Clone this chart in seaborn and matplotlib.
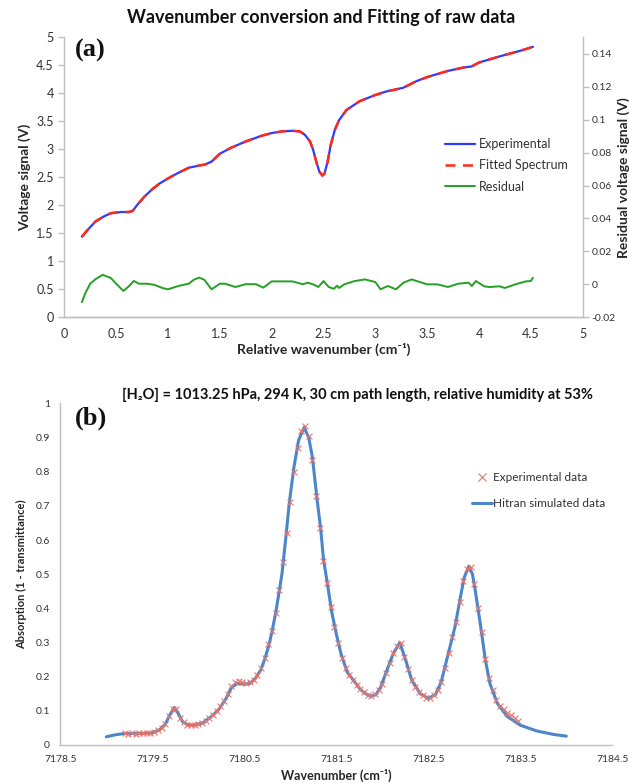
import numpy as np
import pandas as pd
import matplotlib
matplotlib.use("Agg")
import matplotlib.pyplot as plt
import seaborn as sns
from matplotlib.lines import Line2D
from matplotlib.ticker import FuncFormatter

# ---------------- data: panel (a) ----------------
rel_wavenumber = [0.17, 0.22, 0.30, 0.38, 0.45, 0.50, 0.55, 0.62, 0.66, 0.70, 0.77, 0.85,
                  0.92, 1.00, 1.10, 1.20, 1.30, 1.36, 1.42, 1.50, 1.60, 1.75, 1.90, 2.00,
                  2.10, 2.20, 2.27, 2.32, 2.37, 2.40, 2.43, 2.46, 2.49, 2.51, 2.54, 2.57,
                  2.61, 2.65, 2.72, 2.85, 3.00, 3.10, 3.20, 3.27, 3.40, 3.50, 3.70, 3.85,
                  3.93, 4.00, 4.20, 4.40, 4.52]
experimental_signal = [1.44, 1.55, 1.71, 1.80, 1.86, 1.87, 1.88, 1.88, 1.90, 2.00, 2.15, 2.29,
                       2.39, 2.48, 2.58, 2.67, 2.71, 2.73, 2.78, 2.92, 3.02, 3.14, 3.24, 3.29,
                       3.32, 3.33, 3.32, 3.26, 3.14, 2.99, 2.78, 2.60, 2.53, 2.57, 2.78, 3.08,
                       3.35, 3.52, 3.70, 3.86, 3.97, 4.03, 4.07, 4.10, 4.22, 4.29, 4.40, 4.46,
                       4.48, 4.55, 4.66, 4.76, 4.83]
fitted_signal = [1.44, 1.55, 1.71, 1.80, 1.86, 1.87, 1.88, 1.88, 1.90, 2.00, 2.15, 2.29,
                 2.39, 2.48, 2.58, 2.67, 2.71, 2.73, 2.78, 2.92, 3.02, 3.14, 3.24, 3.29,
                 3.32, 3.33, 3.32, 3.26, 3.14, 2.99, 2.78, 2.60, 2.53, 2.57, 2.78, 3.08,
                 3.35, 3.52, 3.70, 3.86, 3.97, 4.03, 4.07, 4.10, 4.22, 4.29, 4.40, 4.46,
                 4.48, 4.55, 4.66, 4.76, 4.83]
residual_x = [0.17, 0.20, 0.25, 0.30, 0.37, 0.45, 0.50, 0.57, 0.62, 0.67, 0.72, 0.80, 0.87,
              0.95, 1.00, 1.10, 1.20, 1.25, 1.30, 1.35, 1.42, 1.50, 1.55, 1.65, 1.75, 1.85,
              1.92, 2.00, 2.20, 2.30, 2.35, 2.40, 2.45, 2.50, 2.55, 2.60, 2.63, 2.65, 2.70,
              2.80, 2.90, 3.00, 3.05, 3.12, 3.20, 3.27, 3.35, 3.50, 3.60, 3.70, 3.80, 3.90,
              3.93, 3.97, 4.05, 4.10, 4.20, 4.25, 4.35, 4.45, 4.50, 4.52]
residual_signal = [-0.0108, -0.0057, 0.0004, 0.0031, 0.0058, 0.0038, 0.0004, -0.0040, -0.0013,
                   0.0021, 0.0004, 0.0004, -0.0003, -0.0023, -0.0030, -0.0010, 0.0004, 0.0028,
                   0.0041, 0.0028, -0.0030, 0.0004, 0.0004, -0.0016, 0.0001, 0.0001, -0.0020,
                   0.0018, 0.0018, 0.0001, 0.0010, 0.0000, -0.0016, 0.0020, -0.0016, -0.0027,
                   -0.0008, -0.0022, 0.0000, 0.0020, 0.0030, 0.0014, -0.0030, -0.0010, -0.0030,
                   0.0010, 0.0030, 0.0000, 0.0000, -0.0016, 0.0004, 0.0010, -0.0010, 0.0020,
                   -0.0012, -0.0016, -0.0012, -0.0022, 0.0000, 0.0018, 0.0020, 0.0040]

# ---------------- data: panel (b) ----------------
hitran_wn = [7179.00, 7179.10, 7179.18, 7179.30, 7179.40, 7179.50, 7179.58, 7179.64, 7179.69,
             7179.74, 7179.78, 7179.83, 7179.88, 7179.95, 7180.05, 7180.15, 7180.22, 7180.30,
             7180.36, 7180.42, 7180.50, 7180.56, 7180.62, 7180.68, 7180.73, 7180.77, 7180.80,
             7180.84, 7180.87, 7180.91, 7180.95, 7180.99, 7181.04, 7181.09, 7181.15, 7181.20,
             7181.24, 7181.29, 7181.33, 7181.36, 7181.40, 7181.45, 7181.50, 7181.55, 7181.62,
             7181.70, 7181.76, 7181.82, 7181.87, 7181.93, 7181.98, 7182.05, 7182.12, 7182.19,
             7182.25, 7182.32, 7182.41, 7182.50, 7182.58, 7182.64, 7182.70, 7182.79, 7182.85,
             7182.89, 7182.94, 7182.98, 7183.01, 7183.07, 7183.12, 7183.17, 7183.25, 7183.36,
             7183.50, 7183.68, 7183.86, 7184.00]
hitran_abs = [0.024, 0.030, 0.033, 0.034, 0.034, 0.036, 0.045, 0.060, 0.088,
              0.110, 0.093, 0.068, 0.060, 0.058, 0.065, 0.085, 0.103, 0.135,
              0.168, 0.180, 0.178, 0.180, 0.195, 0.220, 0.258, 0.295, 0.331,
              0.385, 0.434, 0.502, 0.604, 0.711, 0.814, 0.892, 0.930, 0.900,
              0.843, 0.721, 0.634, 0.545, 0.478, 0.390, 0.325, 0.268, 0.212,
              0.185, 0.163, 0.150, 0.143, 0.147, 0.168, 0.219, 0.268, 0.300,
              0.252, 0.190, 0.151, 0.136, 0.148, 0.185, 0.249, 0.346, 0.434,
              0.490, 0.523, 0.500, 0.453, 0.346, 0.249, 0.180, 0.122, 0.083,
              0.058, 0.041, 0.031, 0.026]

exp_wn = [7179.20, 7179.24, 7179.28, 7179.32, 7179.36, 7179.40, 7179.44, 7179.48, 7179.52,
          7179.56, 7179.60, 7179.64, 7179.68, 7179.72, 7179.76, 7179.80, 7179.84, 7179.88,
          7179.92, 7179.96, 7180.00, 7180.04, 7180.08, 7180.12, 7180.16, 7180.20, 7180.24,
          7180.28, 7180.32, 7180.36, 7180.40, 7180.44, 7180.48, 7180.52, 7180.56, 7180.60,
          7180.64, 7180.68, 7180.72, 7180.76, 7180.80, 7180.84, 7180.88, 7180.92, 7180.96,
          7181.00, 7181.04, 7181.08, 7181.12, 7181.16, 7181.20, 7181.24, 7181.28, 7181.32,
          7181.36, 7181.40, 7181.44, 7181.48, 7181.52, 7181.56, 7181.60, 7181.64, 7181.68,
          7181.72, 7181.76, 7181.80, 7181.84, 7181.88, 7181.92, 7181.96, 7182.00, 7182.04,
          7182.08, 7182.12, 7182.16, 7182.20, 7182.24, 7182.28, 7182.32, 7182.36, 7182.40,
          7182.44, 7182.48, 7182.52, 7182.56, 7182.60, 7182.64, 7182.68, 7182.72, 7182.76,
          7182.80, 7182.84, 7182.88, 7182.92, 7182.96, 7183.00, 7183.04, 7183.08, 7183.12,
          7183.16, 7183.20, 7183.24, 7183.28, 7183.32, 7183.36, 7183.40, 7183.44, 7183.48]
exp_abs = [0.034, 0.033, 0.034, 0.033, 0.034, 0.034, 0.035, 0.036, 0.038,
           0.043, 0.050, 0.062, 0.085, 0.104, 0.106, 0.080, 0.066, 0.060,
           0.058, 0.059, 0.062, 0.064, 0.070, 0.078, 0.088, 0.100, 0.113,
           0.130, 0.150, 0.172, 0.185, 0.188, 0.184, 0.182, 0.184, 0.190,
           0.205, 0.225, 0.255, 0.295, 0.335, 0.385, 0.455, 0.535, 0.620,
           0.710, 0.800, 0.870, 0.920, 0.935, 0.905, 0.835, 0.730, 0.635,
           0.540, 0.475, 0.405, 0.345, 0.300, 0.255, 0.225, 0.205, 0.190,
           0.176, 0.163, 0.154, 0.147, 0.143, 0.148, 0.160, 0.180, 0.212,
           0.240, 0.268, 0.290, 0.300, 0.258, 0.222, 0.190, 0.170, 0.154,
           0.145, 0.138, 0.137, 0.145, 0.162, 0.185, 0.225, 0.270, 0.315,
           0.360, 0.420, 0.480, 0.515, 0.520, 0.470, 0.400, 0.330, 0.252,
           0.195, 0.160, 0.132, 0.115, 0.104, 0.095, 0.087, 0.078, 0.070]

# ---------------- style ----------------
sns.set_theme(style="white")
plt.rcParams['font.family'] = ['Lato', 'DejaVu Sans']
GREY = '#BFBFBF'
TXT = '#333333'

fig = plt.figure(figsize=(6.29, 7.83), dpi=100)
fmt = FuncFormatter(lambda v, p: f'{v:g}')

def style_axis(ax, sides):
    for s in ['top', 'right', 'left', 'bottom']:
        ax.spines[s].set_visible(s in sides)
        ax.spines[s].set_color(GREY)
        ax.spines[s].set_linewidth(1.0)
    ax.tick_params(which='both', color=GREY, length=4, width=1.0, labelcolor=TXT, direction='out')

# ---------------- panel (a) ----------------
W, H = 629, 783
ax1 = fig.add_axes([64.3 / W, 1 - 317.3 / H, 518.4 / W, 280 / H])
ax2 = ax1.twinx()

df_a = pd.DataFrame({'x': rel_wavenumber, 'exp': experimental_signal, 'fit': fitted_signal})
df_r = pd.DataFrame({'x': residual_x, 'res': residual_signal})

sns.lineplot(data=df_a, x='x', y='exp', ax=ax1, color='#2B3BFF', lw=1.6, sort=False, estimator=None)
sns.lineplot(data=df_a, x='x', y='fit', ax=ax1, color='#FF2A1A', lw=1.8, sort=False, estimator=None,
             dashes=False)
ax1.lines[-1].set_dashes((4, 3))
sns.lineplot(data=df_r, x='x', y='res', ax=ax2, color='#24A024', lw=1.4, sort=False, estimator=None)

ax1.set_xlim(0, 5)
ax1.set_ylim(0, 5)
ax2.set_ylim(-0.02, 0.15)
ax1.set_xticks(np.arange(0, 5.01, 0.5))
ax1.set_yticks(np.arange(0, 5.01, 0.5))
ax2.set_yticks(np.arange(-0.02, 0.141, 0.02))
for a in (ax1, ax2):
    a.xaxis.set_major_formatter(fmt)
    a.yaxis.set_major_formatter(FuncFormatter(lambda v, p: f'{round(v, 3):g}'))
style_axis(ax1, ['left', 'bottom'])
style_axis(ax2, ['right', 'bottom'])
ax2.spines['left'].set_visible(False)
ax1.tick_params(axis='both', labelsize=9)
ax2.tick_params(axis='y', labelsize=7.5, pad=2.5)
ax1.set_xlabel('Relative wavenumber (cm\u207b\u00b9)', fontsize=10, fontweight='bold', labelpad=2)
ax1.set_ylabel('Voltage signal (V)', fontsize=10, fontweight='bold', labelpad=4)
ax2.set_ylabel('Residual voltage signal (V)', fontsize=10, fontweight='bold', labelpad=1)

handles_a = [Line2D([], [], color='#2B3BFF', lw=1.6),
             Line2D([], [], color='#FF2A1A', lw=1.8, dashes=(4, 3)),
             Line2D([], [], color='#24A024', lw=1.4)]
leg_a = ax2.legend(handles_a, ['Experimental', 'Fitted Spectrum', 'Residual'],
                   loc='upper left', bbox_to_anchor=(445 / W, 1 - 138 / H),
                   bbox_transform=fig.transFigure, frameon=False, fontsize=9,
                   handlelength=2.4, handletextpad=0.3, labelspacing=0.75,
                   borderpad=0, borderaxespad=0)
for t in leg_a.get_texts():
    t.set_color(TXT)

fig.text(321 / W, 1 - 18 / H, 'Wavenumber conversion and Fitting of raw data',
         ha='center', va='center', fontsize=13, fontweight='bold', color='#111111')
fig.text(75 / W, 1 - 50 / H, '(a)', ha='left', va='center', fontsize=19,
         fontweight='bold', family='Liberation Serif', color='#111111')

# ---------------- panel (b) ----------------
ax3 = fig.add_axes([60.3 / W, 1 - 745 / H, 552 / W, 341.6 / H])
df_h = pd.DataFrame({'wn': hitran_wn, 'abs': hitran_abs})
df_e = pd.DataFrame({'wn': exp_wn, 'abs': exp_abs})
sns.lineplot(data=df_h, x='wn', y='abs', ax=ax3, color='#4A86C8', lw=2.2, sort=False,
             estimator=None, zorder=2)
sns.scatterplot(data=df_e, x='wn', y='abs', ax=ax3, marker='x', color='#E8776F', s=18,
                linewidth=0.8, zorder=3)
ax3.set_xlim(7178.5, 7184.5)
ax3.set_ylim(0, 1)
ax3.set_xticks(np.arange(7178.5, 7184.51, 1.0))
ax3.set_yticks(np.arange(0, 1.001, 0.1))
ax3.xaxis.set_major_formatter(FuncFormatter(lambda v, p: f'{v:.1f}'))
ax3.yaxis.set_major_formatter(FuncFormatter(lambda v, p: f'{round(v, 2):g}'))
style_axis(ax3, ['left', 'bottom'])
ax3.tick_params(axis='both', labelsize=7.5)
ax3.set_xlabel('Wavenumber (cm\u207b\u00b9)', fontsize=9, fontweight='bold', labelpad=3)
ax3.set_ylabel('Absorption (1 - transmittance)', fontsize=8, fontweight='bold', labelpad=6)

handles_b = [Line2D([], [], color='#E8776F', marker='x', ls='none', markersize=6, mew=0.8),
             Line2D([], [], color='#4A86C8', lw=2.2)]
leg_b = ax3.legend(handles_b, ['Experimental data', 'Hitran simulated data'],
                   loc='upper left', bbox_to_anchor=(472 / W, 1 - 472 / H),
                   bbox_transform=fig.transFigure, frameon=False, fontsize=8.5,
                   handlelength=1.7, handletextpad=0.1, labelspacing=1.25,
                   borderpad=0, borderaxespad=0)
for t in leg_b.get_texts():
    t.set_color(TXT)

fig.text(122 / W, 1 - 395 / H,
         '[H\u2082O] = 1013.25 hPa, 294 K, 30 cm path length, relative humidity at 53%',
         ha='left', va='center', fontsize=10.5, fontweight='bold', color='#111111',
         family=['Lato', 'DejaVu Sans'])
fig.text(75 / W, 1 - 418 / H, '(b)', ha='left', va='center', fontsize=19,
         fontweight='bold', family='Liberation Serif', color='#111111')

fig.savefig('out.png', dpi=100)
